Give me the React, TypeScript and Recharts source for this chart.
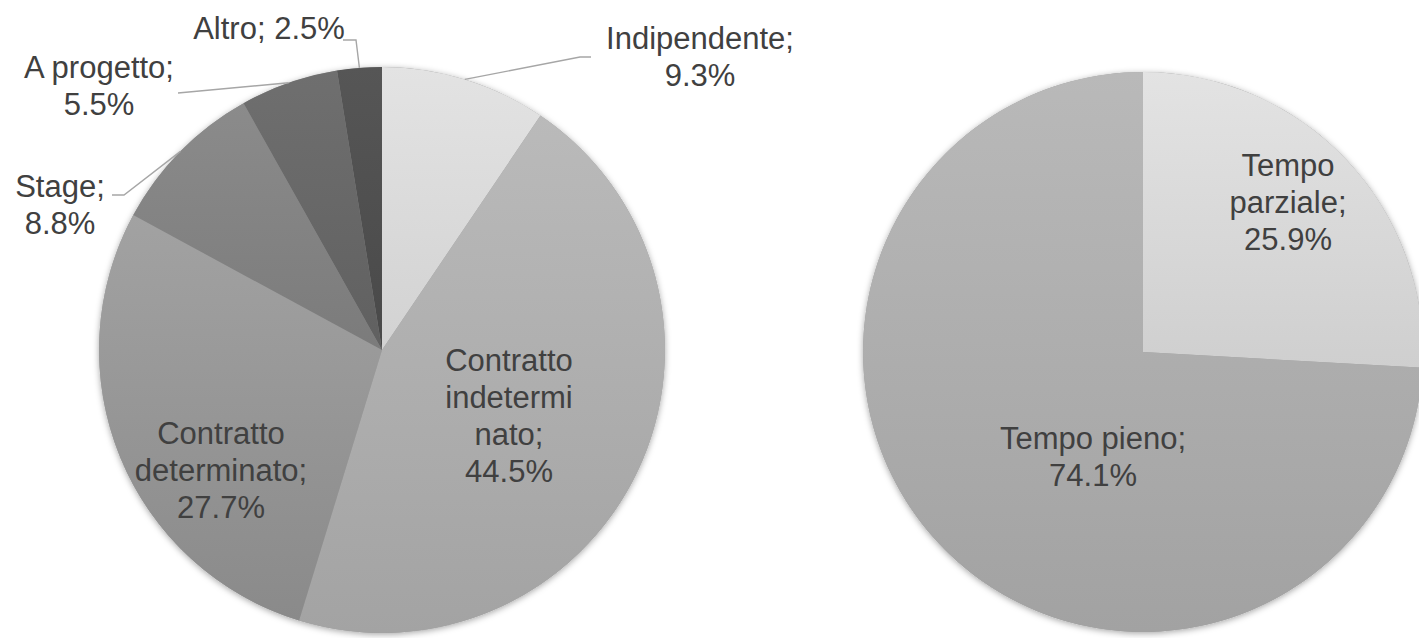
import React from 'react';
import { PieChart, Pie, Cell } from 'recharts';

// Tipologia di contratto (left pie)
const contractNames = ['Indipendente', 'Contratto indeterminato', 'Contratto determinato', 'Stage', 'A progetto', 'Altro'];
const contractShares = [9.3, 44.5, 27.7, 8.8, 5.5, 2.5];
const contractLabelLines = [['Indipendente;'], ['Contratto', 'indetermi', 'nato;'], ['Contratto', 'determinato;'], ['Stage;'], ['A progetto;'], ['Altro;']];

// Orario di lavoro (right pie)
const timeNames = ['Tempo parziale', 'Tempo pieno'];
const timeShares = [25.9, 74.1];
const timeLabelLines = [['Tempo', 'parziale;'], ['Tempo pieno;']];

const contractData = contractNames.map((name, i) => ({ name, value: contractShares[i], lines: contractLabelLines[i] }));
const timeData = timeNames.map((name, i) => ({ name, value: timeShares[i], lines: timeLabelLines[i] }));
const sum = (a: number[]) => a.reduce((s, v) => s + v, 0);
// one-slice copies used only to cast the soft shadow behind each pie
const contractTotal = [{ name: 'totale', value: sum(contractShares) }];
const timeTotal = [{ name: 'totale', value: sum(timeShares) }];

// gradient top / bottom colours per slice
const contractFills = [
  ['#e3e3e3', '#d2d2d2'],
  ['#bababa', '#a3a3a3'],
  ['#a2a2a2', '#8a8a8a'],
  ['#8b8b8b', '#7b7b7b'],
  ['#6f6f6f', '#606060'],
  ['#565656', '#494949'],
];
const timeFills = [
  ['#e3e3e3', '#cfcfcf'],
  ['#b9b9b9', '#a2a2a2'],
];

// label placement relative to the pie centre
type Layout = { dx: number; dy: number; inline?: boolean; leader?: number[][] };
const contractLayout: Layout[] = [
  { dx: 318, dy: -293, leader: [[198, -293], [209, -293]] },
  { dx: 127, dy: 66 },
  { dx: -161, dy: 120 },
  { dx: -322, dy: -145, leader: [[-258, -155], [-270, -155]] },
  { dx: -283, dy: -264, leader: [[-204, -257]] },
  { dx: -113, dy: -322, inline: true, leader: [[-26, -310], [-39, -310]] },
];
const timeLayout: Layout[] = [
  { dx: 145, dy: -150 },
  { dx: -50, dy: 105 },
];

const FONT = '"Liberation Sans", Arial, sans-serif';
const LINE_H = 37;
const RAD = Math.PI / 180;

const makeLabel = (layout: Layout[]) => (props: any) => {
  const { cx, cy, midAngle, outerRadius, index, payload, value } = props;
  const l = layout[index];
  const pct = `${Number(value).toFixed(1)}%`;
  const src = payload && payload.lines ? payload.lines : [props.name];
  const lines = l.inline ? [`${src[0]} ${pct}`] : [...src, pct];
  const x = cx + l.dx;
  const y = cy + l.dy;
  let leader = null;
  if (l.leader) {
    const sx = cx + outerRadius * Math.cos(-midAngle * RAD);
    const sy = cy + outerRadius * Math.sin(-midAngle * RAD);
    const pts = [[sx, sy], ...l.leader.map(([px, py]) => [cx + px, cy + py])];
    leader = (
      <polyline
        points={pts.map((p) => p.join(',')).join(' ')}
        fill="none"
        stroke="#a6a6a6"
        strokeWidth={1.4}
      />
    );
  }
  return (
    <g key={`lbl-${index}`}>
      {leader}
      <text
        x={x}
        y={y}
        textAnchor="middle"
        fill="#404040"
        fontFamily={FONT}
        fontSize={31}
      >
        {lines.map((t: string, i: number) => (
          <tspan key={i} x={x} y={y + (i - (lines.length - 1) / 2) * LINE_H} dominantBaseline="central">
            {t}
          </tspan>
        ))}
      </text>
    </g>
  );
};

export default function App() {
  return (
    <div style={{ position: 'absolute', left: 0, top: 0, background: '#ffffff' }}>
      <PieChart width={1419} height={638} margin={{ top: 0, right: 0, bottom: 0, left: 0 }}>
        <defs>
          {contractFills.map(([a, b], i) => (
            <linearGradient key={`c${i}`} id={`cg${i}`} x1="0" y1="0" x2="0" y2="1">
              <stop offset="0%" stopColor={a} />
              <stop offset="100%" stopColor={b} />
            </linearGradient>
          ))}
          {timeFills.map(([a, b], i) => (
            <linearGradient key={`t${i}`} id={`tg${i}`} x1="0" y1="0" x2="0" y2="1">
              <stop offset="0%" stopColor={a} />
              <stop offset="100%" stopColor={b} />
            </linearGradient>
          ))}
          <filter id="pieShadow" x="-10%" y="-10%" width="120%" height="120%">
            <feDropShadow dx="0" dy="1.5" stdDeviation="3" floodColor="#000000" floodOpacity="0.35" />
          </filter>
        </defs>

        {/* shadows */}
        <Pie
          data={contractTotal}
          dataKey="value"
          cx={382}
          cy={350}
          outerRadius={283}
          startAngle={90}
          endAngle={-270}
          stroke="none"
          fill="#a0a0a0"
          style={{ filter: 'url(#pieShadow)' }}
          isAnimationActive={false}
        >
          <Cell fill="#a0a0a0" filter="url(#pieShadow)" />
        </Pie>
        <Pie
          data={timeTotal}
          dataKey="value"
          cx={1143}
          cy={352}
          outerRadius={280}
          startAngle={90}
          endAngle={-270}
          stroke="none"
          fill="#a0a0a0"
          isAnimationActive={false}
        >
          <Cell fill="#a0a0a0" filter="url(#pieShadow)" />
        </Pie>

        <Pie
          data={contractData}
          dataKey="value"
          nameKey="name"
          cx={382}
          cy={350}
          outerRadius={283}
          startAngle={90}
          endAngle={-270}
          stroke="none"
          labelLine={false}
          label={makeLabel(contractLayout)}
          isAnimationActive={false}
        >
          {contractData.map((d, i) => (
            <Cell key={d.name} fill={`url(#cg${i})`} />
          ))}
        </Pie>
        <Pie
          data={timeData}
          dataKey="value"
          nameKey="name"
          cx={1143}
          cy={352}
          outerRadius={280}
          startAngle={90}
          endAngle={-270}
          stroke="none"
          labelLine={false}
          label={makeLabel(timeLayout)}
          isAnimationActive={false}
        >
          {timeData.map((d, i) => (
            <Cell key={d.name} fill={`url(#tg${i})`} />
          ))}
        </Pie>
      </PieChart>
    </div>
  );
}
